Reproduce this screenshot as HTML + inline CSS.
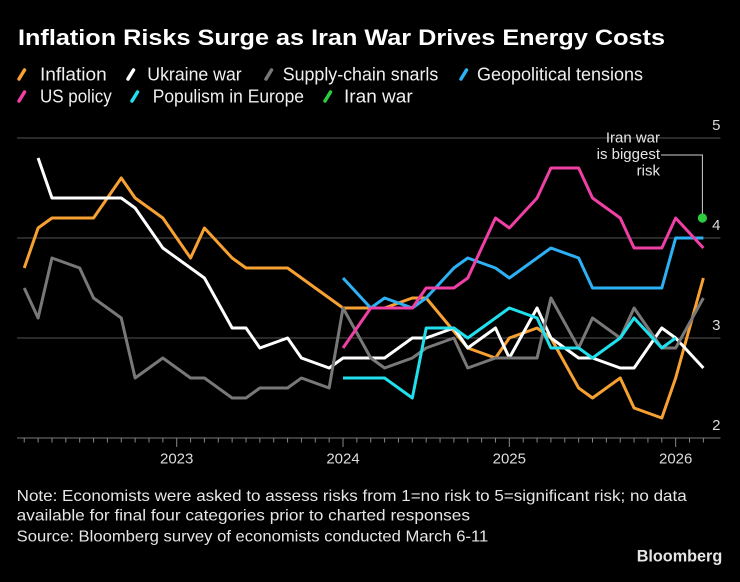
<!DOCTYPE html>
<html>
<head>
<meta charset="utf-8">
<style>
html,body{margin:0;padding:0;background:#000;}
svg{display:block;}
text{font-family:"Liberation Sans",sans-serif;}
</style>
</head>
<body>
<svg width="740" height="582" viewBox="0 0 740 582" xmlns="http://www.w3.org/2000/svg">
<rect width="740" height="582" fill="#000"/>

<!-- Title -->
<text x="18" y="45" font-size="22" font-weight="bold" fill="#fff" textLength="647" lengthAdjust="spacingAndGlyphs">Inflation Risks Surge as Iran War Drives Energy Costs</text>

<!-- Legend -->
<g stroke-width="3.5" stroke-linecap="round">
  <line x1="19" y1="79" x2="24.5" y2="70" stroke="#F7A132"/>
  <line x1="128" y1="79" x2="133.5" y2="70" stroke="#ffffff"/>
  <line x1="266" y1="79" x2="271.5" y2="70" stroke="#777777"/>
  <line x1="461" y1="79" x2="466.5" y2="70" stroke="#2DB1F5"/>
  <line x1="19" y1="101" x2="24.5" y2="92" stroke="#F03FA5"/>
  <line x1="132" y1="101" x2="137.5" y2="92" stroke="#1FE0EC"/>
  <line x1="325" y1="101" x2="330.5" y2="92" stroke="#2DCB3F"/>
</g>
<g font-size="18" fill="#f0f0f0">
  <text x="40" y="80.7" textLength="66.7" lengthAdjust="spacingAndGlyphs">Inflation</text>
  <text x="147.3" y="80.7" textLength="94.4" lengthAdjust="spacingAndGlyphs">Ukraine war</text>
  <text x="282.7" y="80.7" textLength="155.6" lengthAdjust="spacingAndGlyphs">Supply-chain snarls</text>
  <text x="477" y="80.7" textLength="166" lengthAdjust="spacingAndGlyphs">Geopolitical tensions</text>
  <text x="40" y="102.5" textLength="71.7" lengthAdjust="spacingAndGlyphs">US policy</text>
  <text x="152.7" y="102.5" textLength="151.3" lengthAdjust="spacingAndGlyphs">Populism in Europe</text>
  <text x="344" y="102.5" textLength="68.7" lengthAdjust="spacingAndGlyphs">Iran war</text>
</g>

<!-- Gridlines -->
<g stroke="#555" stroke-width="1">
  <line x1="17" y1="138" x2="720.5" y2="138"/>
  <line x1="17" y1="238" x2="720.5" y2="238"/>
  <line x1="17" y1="338" x2="720.5" y2="338"/>
</g>
<line x1="17" y1="438" x2="720.5" y2="438" stroke="#777" stroke-width="1"/>

<!-- Y labels -->
<g font-size="15" fill="#dcdcdc" text-anchor="end">
  <text x="720.5" y="130">5</text>
  <text x="720.5" y="230">4</text>
  <text x="720.5" y="330">3</text>
  <text x="720.5" y="430">2</text>
</g>

<!-- X ticks -->
<g stroke="#888" stroke-width="1">
  <line x1="24.24" y1="438" x2="24.24" y2="442.5"/>
  <line x1="38.1" y1="438" x2="38.1" y2="442.5"/>
  <line x1="51.96" y1="438" x2="51.96" y2="442.5"/>
  <line x1="65.82" y1="438" x2="65.82" y2="442.5"/>
  <line x1="79.68" y1="438" x2="79.68" y2="442.5"/>
  <line x1="93.54" y1="438" x2="93.54" y2="442.5"/>
  <line x1="107.4" y1="438" x2="107.4" y2="442.5"/>
  <line x1="121.26" y1="438" x2="121.26" y2="442.5"/>
  <line x1="135.12" y1="438" x2="135.12" y2="442.5"/>
  <line x1="148.98" y1="438" x2="148.98" y2="442.5"/>
  <line x1="162.84" y1="438" x2="162.84" y2="442.5"/>
  <line x1="176.7" y1="438" x2="176.7" y2="447"/>
  <line x1="190.56" y1="438" x2="190.56" y2="442.5"/>
  <line x1="204.42" y1="438" x2="204.42" y2="442.5"/>
  <line x1="218.28" y1="438" x2="218.28" y2="442.5"/>
  <line x1="232.14" y1="438" x2="232.14" y2="442.5"/>
  <line x1="246" y1="438" x2="246" y2="442.5"/>
  <line x1="259.86" y1="438" x2="259.86" y2="442.5"/>
  <line x1="273.72" y1="438" x2="273.72" y2="442.5"/>
  <line x1="287.58" y1="438" x2="287.58" y2="442.5"/>
  <line x1="301.44" y1="438" x2="301.44" y2="442.5"/>
  <line x1="315.3" y1="438" x2="315.3" y2="442.5"/>
  <line x1="329.16" y1="438" x2="329.16" y2="442.5"/>
  <line x1="343.02" y1="438" x2="343.02" y2="447"/>
  <line x1="356.88" y1="438" x2="356.88" y2="442.5"/>
  <line x1="370.74" y1="438" x2="370.74" y2="442.5"/>
  <line x1="384.6" y1="438" x2="384.6" y2="442.5"/>
  <line x1="398.46" y1="438" x2="398.46" y2="442.5"/>
  <line x1="412.32" y1="438" x2="412.32" y2="442.5"/>
  <line x1="426.18" y1="438" x2="426.18" y2="442.5"/>
  <line x1="440.04" y1="438" x2="440.04" y2="442.5"/>
  <line x1="453.9" y1="438" x2="453.9" y2="442.5"/>
  <line x1="467.76" y1="438" x2="467.76" y2="442.5"/>
  <line x1="481.62" y1="438" x2="481.62" y2="442.5"/>
  <line x1="495.48" y1="438" x2="495.48" y2="442.5"/>
  <line x1="509.34" y1="438" x2="509.34" y2="447"/>
  <line x1="523.2" y1="438" x2="523.2" y2="442.5"/>
  <line x1="537.06" y1="438" x2="537.06" y2="442.5"/>
  <line x1="550.92" y1="438" x2="550.92" y2="442.5"/>
  <line x1="564.78" y1="438" x2="564.78" y2="442.5"/>
  <line x1="578.64" y1="438" x2="578.64" y2="442.5"/>
  <line x1="592.5" y1="438" x2="592.5" y2="442.5"/>
  <line x1="606.36" y1="438" x2="606.36" y2="442.5"/>
  <line x1="620.22" y1="438" x2="620.22" y2="442.5"/>
  <line x1="634.08" y1="438" x2="634.08" y2="442.5"/>
  <line x1="647.94" y1="438" x2="647.94" y2="442.5"/>
  <line x1="661.8" y1="438" x2="661.8" y2="442.5"/>
  <line x1="675.66" y1="438" x2="675.66" y2="447"/>
  <line x1="689.52" y1="438" x2="689.52" y2="442.5"/>
  <line x1="703.38" y1="438" x2="703.38" y2="442.5"/>
</g>

<!-- X labels -->
<g font-size="15" fill="#dcdcdc" text-anchor="middle">
  <text x="176.7" y="463.3">2023</text>
  <text x="343" y="463.3">2024</text>
  <text x="509.3" y="463.3">2025</text>
  <text x="675.7" y="463.3">2026</text>
</g>

<!-- Series -->
<g fill="none" stroke-width="3" stroke-linejoin="round" stroke-linecap="butt">
  <polyline stroke="#F7A132" points="24.24,268 38.1,228 51.96,218 93.54,218 121.26,178 135.12,198 162.84,218 190.56,258 204.42,228 232.14,258 246,268 287.58,268 343.02,308 384.6,308 412.32,298 426.18,298 467.76,348 495.48,358 509.34,338 537.06,328 550.92,338 578.64,388 592.5,398 620.22,378 634.08,408 661.8,418 675.66,378 703.38,278"/>
  <polyline stroke="#ffffff" points="38.1,158 51.96,198 121.26,198 135.12,208 162.84,248 204.42,278 232.14,328 246,328 259.86,348 287.58,338 301.44,358 329.16,368 343.02,358 384.6,358 412.32,338 426.18,338 453.9,328 467.76,348 495.48,328 509.34,358 537.06,308 550.92,338 578.64,358 592.5,358 620.22,368 634.08,368 661.8,328 675.66,338 703.38,368"/>
  <polyline stroke="#787878" points="24.24,288 38.1,318 51.96,258 79.68,268 93.54,298 121.26,318 135.12,378 162.84,358 190.56,378 204.42,378 232.14,398 246,398 259.86,388 287.58,388 301.44,378 329.16,388 343.02,308 370.74,358 384.6,368 412.32,358 426.18,348 453.9,338 467.76,368 495.48,358 537.06,358 550.92,298 578.64,348 592.5,318 620.22,338 634.08,308 661.8,348 675.66,348 703.38,298"/>
  <polyline stroke="#2DB1F5" points="343.02,278 370.74,308 384.6,298 412.32,308 426.18,298 453.9,268 467.76,258 495.48,268 509.34,278 550.92,248 578.64,258 592.5,288 661.8,288 675.66,238 703.38,238"/>
  <polyline stroke="#F03FA5" points="343.02,348 370.74,308 384.6,308 412.32,308 426.18,288 453.9,288 467.76,278 495.48,218 509.34,228 537.06,198 550.92,168 578.64,168 592.5,198 620.22,218 634.08,248 661.8,248 675.66,218 703.38,248"/>
  <polyline stroke="#1FE0EC" points="343.02,378 384.6,378 412.32,398 426.18,328 453.9,328 467.76,338 509.34,308 537.06,318 550.92,348 578.64,348 592.5,358 620.22,338 634.08,318 661.8,348 675.66,338"/>
</g>

<!-- Annotation -->
<polyline fill="none" stroke="#cfcfcf" stroke-width="1" points="661,155 702.4,155 702.4,214"/>
<circle cx="702.4" cy="218" r="4.6" fill="#2DCB3F"/>
<g font-size="15" fill="#e6e6e6" text-anchor="end">
  <text x="660" y="142.5">Iran war</text>
  <text x="660" y="159">is biggest</text>
  <text x="660" y="175.5">risk</text>
</g>

<!-- Notes -->
<g font-size="16" fill="#e6e6e6">
  <text x="16.7" y="501" textLength="670" lengthAdjust="spacingAndGlyphs">Note: Economists were asked to assess risks from 1=no risk to 5=significant risk; no data</text>
  <text x="16.7" y="520.5" textLength="453.3" lengthAdjust="spacingAndGlyphs">available for final four categories prior to charted responses</text>
  <text x="16.7" y="541.7" textLength="471.6" lengthAdjust="spacingAndGlyphs">Source: Bloomberg survey of economists conducted March 6-11</text>
</g>
<text x="636.7" y="561.7" font-size="17" font-weight="bold" fill="#e6e6e6" textLength="85.6" lengthAdjust="spacingAndGlyphs">Bloomberg</text>
</svg>
</body>
</html>
